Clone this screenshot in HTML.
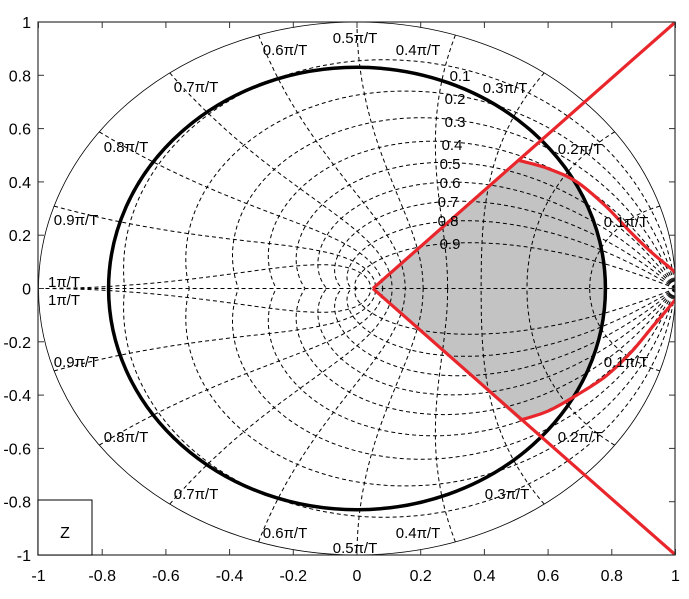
<!DOCTYPE html>
<html><head><meta charset="utf-8"><style>body{margin:0;background:#fff}svg{display:block}text{font-family:"Liberation Sans",sans-serif;}</style></head>
<body>
<svg id="c" width="689" height="599" viewBox="0 0 689 599">
<defs><clipPath id="plotclip"><rect x="38" y="22" width="637" height="533"/></clipPath></defs>
<g id="grid" clip-path="url(#plotclip)"></g>
<g id="marks" clip-path="url(#plotclip)"></g>
<g id="axes"></g>
<g id="labels"></g>
</svg>
<script>
const xTicks=[-1,-0.8,-0.6,-0.4,-0.2,0,0.2,0.4,0.6,0.8,1];
const yTicks=[-1,-0.8,-0.6,-0.4,-0.2,0,0.2,0.4,0.6,0.8,1];
const zetas=[0.1,0.2,0.3,0.4,0.5,0.6,0.7,0.8,0.9];
const wns=[0.1,0.2,0.3,0.4,0.5,0.6,0.7,0.8,0.9,1];
const wedgeApex=[0.05,0];
const wedgeEnds=[[1,1],[1,-1]];
const regionX=[0.51,0.60,0.69,0.78,0.86,0.93,0.99,1.01,1.01,0.98,0.93,0.86,0.78,0.69,0.60,0.51];
const regionY=[0.48,0.45,0.40,0.31,0.21,0.13,0.07,0.04,-0.02,-0.07,-0.14,-0.24,-0.33,-0.40,-0.46,-0.495];
const circleRx=0.78, circleRy=0.83;
const zetaLabelPos=[[460,76],[455,99],[455,122],[452,145],[450,164],[450,183],[448,202],[448,221],[450,244]];
const wnLabelPos=[[626,222,626,362],[580,149,580,437],[505,88,507,494],[418,50,418,533],[355,38,355,548],[285,50,285,533],[196,87,196,494],[126,147,126,437],[76,220,76,362],[64,282,64,300]];
const X=x=>357+318.5*x, Y=y=>288.5-266.5*y;
const NS='http://www.w3.org/2000/svg';
function mk(tag,attrs,parent){const e=document.createElementNS(NS,tag);for(const k in attrs)e.setAttribute(k,attrs[k]);parent.appendChild(e);return e;}
const grid=document.getElementById('grid'),marks=document.getElementById('marks'),axes=document.getElementById('axes'),labels=document.getElementById('labels');
function pathFrom(pts){return pts.map((p,i)=>(i?'L':'M')+X(p[0]).toFixed(1)+','+Y(p[1]).toFixed(1)).join('');}
function smooth(pts){const P=pts.map(p=>[X(p[0]),Y(p[1])]);let d='M'+P[0][0]+','+P[0][1];for(let i=0;i<P.length-1;i++){const p0=P[Math.max(i-1,0)],p1=P[i],p2=P[i+1],p3=P[Math.min(i+2,P.length-1)];const c1=[p1[0]+(p2[0]-p0[0])/6,p1[1]+(p2[1]-p0[1])/6],c2=[p2[0]-(p3[0]-p1[0])/6,p2[1]-(p3[1]-p1[1])/6];d+='C'+c1.join(',')+' '+c2.join(',')+' '+p2.join(',');}return d;}
const curvePts=regionX.map((x,i)=>[x,regionY[i]]);
const cp=mk('clipPath',{id:'ellclip'},document.querySelector('defs'));
mk('ellipse',{cx:X(0),cy:Y(0),rx:318.5*circleRx,ry:266.5*circleRy},cp);
const gr=mk('path',{d:'M'+X(wedgeApex[0])+','+Y(wedgeApex[1])+smooth(curvePts).replace('M','L')+'Z',fill:'#c3c3c3','clip-path':'url(#ellclip)'},grid);


zetas.forEach(z=>{const wd=Math.sqrt(1-z*z);[1,-1].forEach(s=>{const pts=[];const tmax=Math.PI/wd;for(let i=0;i<=200;i++){const t=tmax*i/200;const r=Math.exp(-z*t);pts.push([r*Math.cos(wd*t),s*r*Math.sin(wd*t)]);}
const p=mk('path',{d:pathFrom(pts),fill:'none',stroke:'#000','stroke-width':1,'stroke-dasharray':'4,3'},grid);

});});
wns.forEach(w=>{[1,-1].forEach(s=>{const pts=[];for(let i=0;i<=100;i++){const z=i/100;const wt=w*Math.PI;const r=Math.exp(-z*wt);const a=wt*Math.sqrt(1-z*z);pts.push([r*Math.cos(a),s*r*Math.sin(a)]);}
const p=mk('path',{d:pathFrom(pts),fill:'none',stroke:'#000','stroke-width':1,'stroke-dasharray':'4,3'},grid);

});});
const ra=mk('line',{x1:X(-1),y1:Y(0),x2:X(1),y2:Y(0),stroke:'#000','stroke-dasharray':'4,3'},grid);


const uc=mk('ellipse',{cx:X(0),cy:Y(0),rx:318.5,ry:266.5,fill:'none',stroke:'#000','stroke-width':0.8},grid);


const bc=mk('ellipse',{cx:X(0),cy:Y(0),rx:318.5*circleRx,ry:266.5*circleRy,fill:'none',stroke:'#000','stroke-width':3.5},marks);


wedgeEnds.forEach(e=>{const l=mk('line',{x1:X(wedgeApex[0]),y1:Y(wedgeApex[1]),x2:X(e[0]),y2:Y(e[1]),stroke:'#e8262b','stroke-width':3.2},marks);

});
const rc=mk('path',{d:smooth(curvePts),fill:'none',stroke:'#e8262b','stroke-width':3.2},marks);


const fr=mk('rect',{x:38,y:22,width:637,height:533,fill:'none',stroke:'#333','stroke-width':1.2},axes);


xTicks.forEach(v=>{mk('line',{x1:X(v),y1:555,x2:X(v),y2:549,stroke:'#333'},axes);mk('line',{x1:X(v),y1:22,x2:X(v),y2:28,stroke:'#333'},axes);
const t=mk('text',{x:X(v),y:581,'text-anchor':'middle','font-size':16},axes);t.textContent=String(v);

});
yTicks.forEach(v=>{mk('line',{x1:38,y1:Y(v),x2:44,y2:Y(v),stroke:'#333'},axes);mk('line',{x1:675,y1:Y(v),x2:669,y2:Y(v),stroke:'#333'},axes);
const t=mk('text',{x:31,y:Y(v)+6,'text-anchor':'end','font-size':16},axes);t.textContent=String(v);

});
const zb=mk('rect',{x:38,y:500,width:54,height:55,fill:'#fff',stroke:'#000'},axes);


const zt=mk('text',{x:65,y:538,'text-anchor':'middle','font-size':16},axes);zt.textContent='Z';


zetas.forEach((z,i)=>{const t=mk('text',{x:zetaLabelPos[i][0],y:zetaLabelPos[i][1]+5,'text-anchor':'middle','font-size':15},labels);t.textContent=String(z);

});
wns.forEach((w,i)=>{const p=wnLabelPos[i];[[p[0],p[1]],[p[2],p[3]]].forEach(q=>{const t=mk('text',{x:q[0],y:q[1]+5,'text-anchor':'middle','font-size':15},labels);t.textContent=String(w)+'π/T';

});});
</script>
</body></html>
